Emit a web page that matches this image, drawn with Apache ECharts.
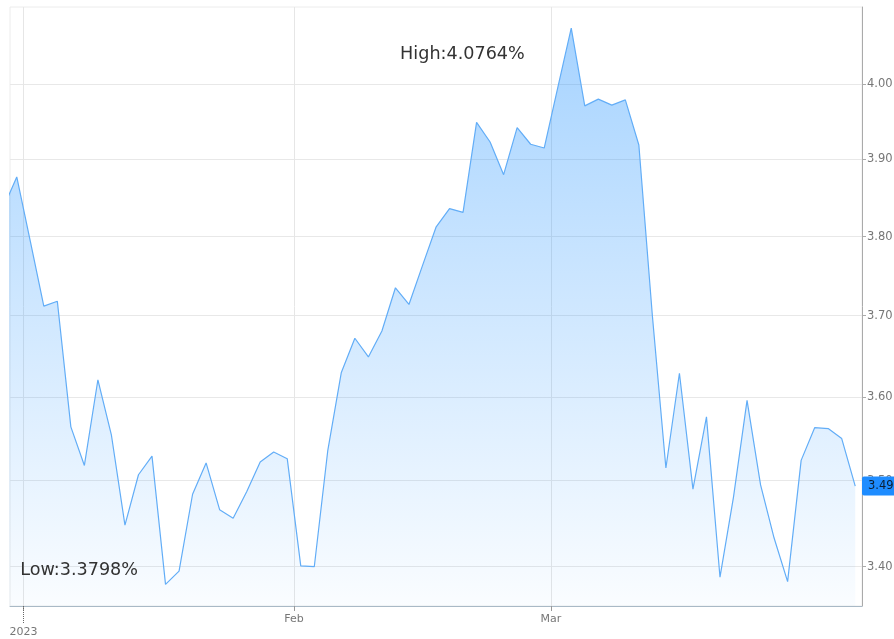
<!DOCTYPE html>
<html><head><meta charset="utf-8">
<script src="https://cdn.jsdelivr.net/npm/echarts@6/dist/echarts.min.js"></script>
<style>html,body{margin:0;padding:0;background:#fff}#c{width:894px;height:639px}</style>
</head><body><div id="c"></div>
<script>
// Trading days (US 10-year yield, %)
const dates = [
 '2022-12-29','2022-12-30',
 '2023-01-03','2023-01-04','2023-01-05','2023-01-06','2023-01-09','2023-01-10','2023-01-11','2023-01-12','2023-01-13',
 '2023-01-17','2023-01-18','2023-01-19','2023-01-20','2023-01-23','2023-01-24','2023-01-25','2023-01-26','2023-01-27',
 '2023-01-30','2023-01-31',
 '2023-02-01','2023-02-02','2023-02-03','2023-02-06','2023-02-07','2023-02-08','2023-02-09','2023-02-10','2023-02-13',
 '2023-02-14','2023-02-15','2023-02-16','2023-02-17','2023-02-21','2023-02-22','2023-02-23','2023-02-24','2023-02-27',
 '2023-02-28',
 '2023-03-01','2023-03-02','2023-03-03','2023-03-06','2023-03-07','2023-03-08','2023-03-09','2023-03-10','2023-03-13',
 '2023-03-14','2023-03-15','2023-03-16','2023-03-17','2023-03-20','2023-03-21','2023-03-22','2023-03-23','2023-03-24',
 '2023-03-27','2023-03-28','2023-03-29','2023-03-30','2023-03-31'
];
const yields = [
 3.837, 3.877,
 3.794, 3.712, 3.718, 3.564, 3.518, 3.621, 3.554, 3.448, 3.507,
 3.529, 3.3798, 3.395, 3.484, 3.521, 3.466, 3.456, 3.487, 3.522,
 3.534, 3.526,
 3.401, 3.400, 3.536, 3.630, 3.672, 3.649, 3.681, 3.735, 3.714,
 3.763, 3.812, 3.836, 3.831, 3.949, 3.923, 3.880, 3.942, 3.920,
 3.915,
 3.995, 4.0764, 3.971, 3.980, 3.972, 3.979, 3.919, 3.700, 3.515,
 3.629, 3.490, 3.576, 3.388, 3.481, 3.596, 3.495, 3.433, 3.383,
 3.524, 3.563, 3.562, 3.550, 3.4936
];
const monthLabels = ['2023', 'Feb', 'Mar'];
const yTicks = [3.40, 3.50, 3.60, 3.70, 3.80, 3.90, 4.00];
const yMin = 3.3553, yMax = 4.1055;
const xMin = 0.5, xMax = 63.5;

const monthTicks = [];
for (let i = 1; i < dates.length; i++) {
  if (dates[i].slice(5, 7) !== dates[i - 1].slice(5, 7)) monthTicks.push(i - 0.5);
}
const seriesData = yields.map((v, i) => [i, v]);
const lastValue = yields[yields.length - 1];
const FONT = 'DejaVu Sans';

const chart = echarts.init(document.getElementById('c'), null, {renderer: 'canvas'});
chart.setOption({
  animation: false,
  backgroundColor: '#fff',
  grid: {left: 10, right: 32, top: 7, bottom: 33, show: true, borderColor: '#ececec', borderWidth: 1,
    containLabel: false, outerBoundsMode: 'none'},
  xAxis: [{
    type: 'value', min: xMin, max: xMax,
    axisLine: {show: true, onZero: false, lineStyle: {color: '#a9b9c6'}},
    axisTick: {show: true, customValues: monthTicks, length: 5, lineStyle: {color: '#999'}},
    axisLabel: {
      customValues: monthTicks, color: '#777', fontSize: 11, fontFamily: FONT, margin: 8,
      formatter: function (v) {
        const idx = monthTicks.findIndex(t => Math.abs(t - v) < 1e-6);
        if (idx === 0) return '{yr|' + monthLabels[0] + '}';
        return idx >= 0 ? monthLabels[idx] : '';
      },
      rich: {yr: {color: '#777', fontSize: 11, fontFamily: FONT, padding: [13, 0, 0, 0]}}
    },
    splitLine: {show: true, lineStyle: {color: '#e6e6e6'}}
  }, {
    type: 'value', min: xMin, max: xMax, position: 'bottom',
    axisLine: {show: false},
    axisTick: {show: true, customValues: [monthTicks[0]], length: 17, lineStyle: {color: '#666', type: 'dotted'}},
    axisLabel: {show: false},
    splitLine: {show: false}
  }],
  yAxis: [{
    type: 'log', logBase: 10, min: yMin, max: yMax, position: 'right',
    axisLine: {show: true, lineStyle: {color: '#aaa'}},
    axisTick: {show: true, customValues: yTicks, length: 4, lineStyle: {color: '#aaa'}},
    axisLabel: {customValues: yTicks, formatter: v => Number(v).toFixed(2), color: '#777', fontSize: 11.5, fontFamily: FONT, margin: 5},
    splitLine: {show: true, lineStyle: {color: '#e8e8e8'}}
  }, {
    type: 'log', logBase: 10, min: yMin, max: yMax, position: 'right',
    axisLine: {show: false}, axisTick: {show: false}, splitLine: {show: false},
    axisLabel: {customValues: [lastValue], formatter: v => Number(v).toFixed(2), color: '#0b1f33',
      backgroundColor: '#1e8cff', padding: [4, 8, 3, 6], borderRadius: [2, 0, 0, 2], margin: 0,
      fontSize: 11.5, fontFamily: FONT}
  }],
  series: [{
    type: 'line', data: seriesData, xAxisIndex: 0, yAxisIndex: 0,
    symbol: 'none', showSymbol: false, clip: true,
    lineStyle: {color: '#62adf7', width: 1.2},
    areaStyle: {origin: 'start', color: new echarts.graphic.LinearGradient(0, 0, 0, 1, [
      {offset: 0, color: 'rgba(30,144,255,0.56)'},
      {offset: 1, color: 'rgba(30,144,255,0.03)'}
    ])},
    markPoint: {
      symbol: 'circle', symbolSize: 1, itemStyle: {color: 'rgba(0,0,0,0)'},
      label: {show: true, position: 'left', distance: 0, color: '#333', fontSize: 17.6, fontFamily: FONT},
      data: [
        {type: 'max', valueIndex: 1, label: {offset: [-46, 26], formatter: p => 'High:' + p.value + '%'}},
        {type: 'min', valueIndex: 1, label: {offset: [-27, -14], formatter: p => 'Low:' + p.value + '%'}}
      ]
    }
  }]
});
</script>
</body></html>
